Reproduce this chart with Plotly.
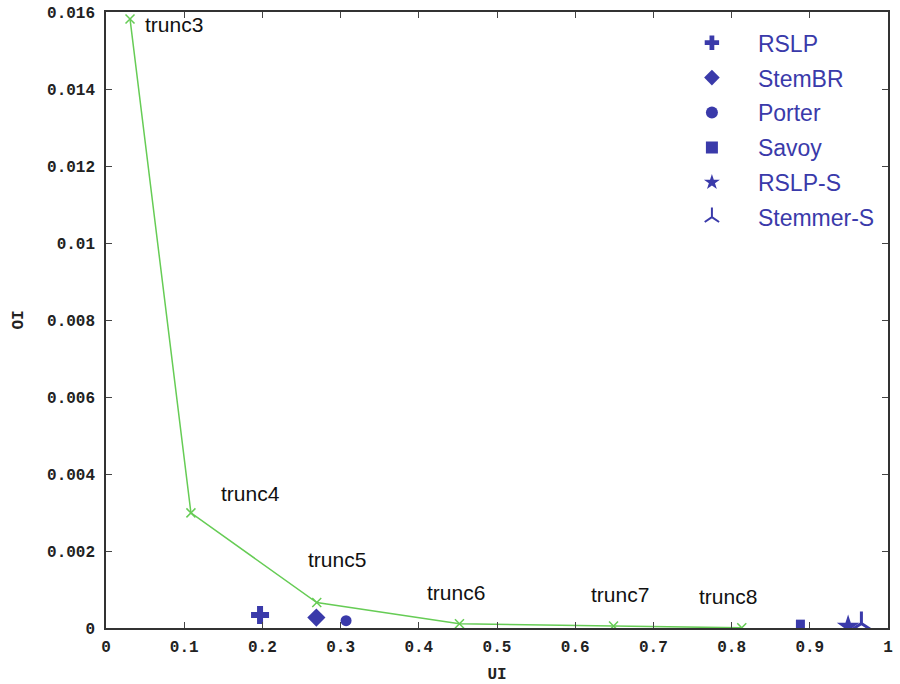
import plotly.graph_objects as go

# Truncation stemmers curve
trunc_names = ["trunc3", "trunc4", "trunc5", "trunc6", "trunc7", "trunc8"]
trunc_ui = [0.0307, 0.1086, 0.2695, 0.452, 0.649, 0.813]
trunc_oi = [0.01582, 0.00299, 0.00066, 0.00011, 0.00005, 0.000005]

# Individual stemmers
stem_names = ["RSLP", "StemBR", "Porter", "Savoy", "RSLP-S", "Stemmer-S"]
stem_ui = [0.197, 0.269, 0.307, 0.888, 0.949, 0.966]
stem_oi = [0.00034, 0.00027, 0.00019, 0.0001, 0.00004, 0.00012]

# styles (not data)
stem_symbols = ["cross", "diamond", "circle", "square", "star", "y-up"]
stem_sizes = [15, 14, 11, 9, 17, 15]
label_dx = [44, 60, 20, -3, 6, -14]
label_dy = [-6, 19, 43, 31, 32, 31]

BLUE = "#3a3aaa"
GREEN = "#66cc55"
tickfont = dict(family="Liberation Mono", size=16, color="#222", weight="bold")

fig = go.Figure()
fig.add_trace(go.Scatter(
    x=trunc_ui, y=trunc_oi, mode="lines+markers",
    line=dict(color=GREEN, width=1.5),
    marker=dict(symbol="x-thin", size=9, line=dict(color=GREEN, width=1.5)),
    showlegend=False, hoverinfo="skip"))

for name, ux, oy, sym, sz in zip(stem_names, stem_ui, stem_oi, stem_symbols, stem_sizes):
    lw = 3 if sym == "y-up" else 0
    fig.add_trace(go.Scatter(
        x=[ux], y=[oy], mode="markers", name=name, legendgroup=name,
        marker=dict(symbol=sym, size=sz, color=BLUE,
                    line=dict(color=BLUE, width=lw))))

for name, ux, oy, dx, dy in zip(trunc_names, trunc_ui, trunc_oi, label_dx, label_dy):
    fig.add_annotation(x=ux, y=oy, text=name, showarrow=False,
                       xshift=dx, yshift=dy,
                       font=dict(family="Liberation Sans", size=21, color="#111"))

fig.update_layout(
    width=900, height=684,
    margin=dict(l=106, r=12, t=12, b=56),
    paper_bgcolor="white", plot_bgcolor="white",
    legend=dict(x=0.716, y=0.985, xanchor="left", yanchor="top",
                font=dict(family="Liberation Sans", size=23, color=BLUE),
                bgcolor="rgba(0,0,0,0)", tracegroupgap=2, itemwidth=82,
                itemsizing="constant"),
)
fig.update_xaxes(range=[0, 1], dtick=0.1, tick0=0, ticks="inside", ticklen=6,
                 mirror="allticks", showline=True, linecolor="#333", linewidth=1.5,
                 showgrid=False, zeroline=False, tickfont=tickfont, automargin=False,
                 ticklabelstandoff=3,
                 title=dict(text="UI", font=tickfont, standoff=15))
fig.update_yaxes(range=[0, 0.016], dtick=0.002, tick0=0, ticks="inside", ticklen=6,
                 mirror="allticks", showline=True, linecolor="#333", linewidth=1.5,
                 showgrid=False, zeroline=False, tickfont=tickfont, automargin=False,
                 ticklabelstandoff=6,
                 title=dict(text="OI", font=tickfont, standoff=19))

fig.write_html("out.html", config={"displayModeBar": False},
               post_script="document.body.style.margin='0';document.body.style.overflow='hidden';")
